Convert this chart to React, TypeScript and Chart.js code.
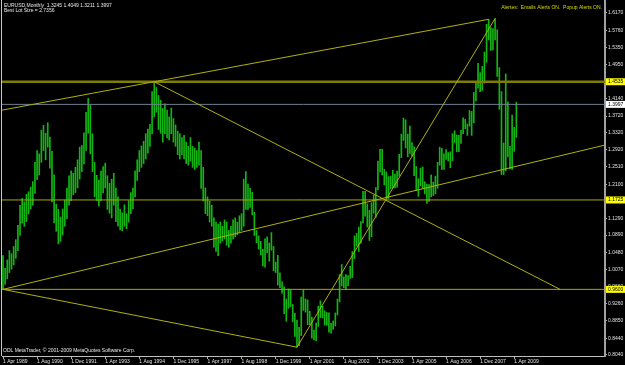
import { useEffect, useRef } from 'react';
import { Chart, registerables } from 'chart.js';

Chart.register(...registerables);

// Monthly bars, index 0 = Apr 1989 ... 241 = May 2009
const barHighs = [
  1.040, 1.010, 1.030, 1.052, 1.045, 1.062, 1.078, 1.112, 1.160, 1.176,
  1.168, 1.186, 1.192, 1.203, 1.216, 1.262, 1.290, 1.282, 1.338, 1.350,
  1.331, 1.356, 1.322, 1.288, 1.232, 1.162, 1.150, 1.132, 1.151, 1.172,
  1.201, 1.230, 1.241, 1.236, 1.250, 1.268, 1.298, 1.302, 1.332, 1.381,
  1.414, 1.398, 1.330, 1.262, 1.231, 1.220, 1.241, 1.252, 1.260, 1.230,
  1.212, 1.222, 1.236, 1.201, 1.180, 1.150, 1.142, 1.161, 1.140, 1.171,
  1.190, 1.201, 1.242, 1.268, 1.290, 1.301, 1.312, 1.330, 1.341, 1.352,
  1.430, 1.4535, 1.440, 1.421, 1.410, 1.390, 1.401, 1.386, 1.370, 1.391,
  1.366, 1.351, 1.336, 1.330, 1.321, 1.326, 1.310, 1.300, 1.321, 1.300,
  1.296, 1.290, 1.310, 1.290, 1.250, 1.201, 1.180, 1.170, 1.160, 1.130,
  1.120, 1.115, 1.120, 1.110, 1.125, 1.120, 1.100, 1.110, 1.125, 1.130,
  1.120, 1.135, 1.140, 1.222, 1.240, 1.210, 1.200,
  1.1906, 1.1430, 1.1000, 1.0870, 1.0740, 1.0550, 1.0800, 1.0850, 1.0700, 1.0950,
  1.0620, 1.0250, 1.0410, 0.9990, 0.9780, 0.9660, 0.9370, 0.9610, 0.9590, 0.9240,
  0.9030, 0.8870, 0.8700, 0.9420, 0.9600, 0.9370, 0.9350, 0.9080, 0.8940, 0.8630,
  0.8800, 0.9200, 0.9330, 0.9200, 0.9090, 0.9050, 0.9040, 0.8790, 0.8850, 0.9040,
  0.9370, 0.9950, 1.0190, 0.9900, 0.9950, 0.9930, 1.0150, 1.0500, 1.0870, 1.0930,
  1.1080, 1.1210, 1.1930, 1.1930, 1.1630, 1.1480, 1.1660, 1.1840, 1.2020, 1.2650,
  1.2930, 1.2930, 1.2450, 1.2390, 1.2280, 1.2290, 1.2430, 1.2340, 1.2410, 1.2810,
  1.3290, 1.3670, 1.3630, 1.3290, 1.3480, 1.3090, 1.2990, 1.2520, 1.2230, 1.2480,
  1.2510, 1.2160, 1.2100, 1.2090, 1.2320, 1.2150, 1.2290, 1.2620, 1.2980, 1.2950,
  1.2820, 1.2920, 1.2850, 1.2870, 1.3300, 1.3370, 1.3270, 1.3260, 1.3380, 1.3680,
  1.3640, 1.3530, 1.3850, 1.3830, 1.4280, 1.4520, 1.4970, 1.4750, 1.4900, 1.5240,
  1.5900, 1.6019, 1.5820, 1.5800, 1.6038, 1.5770, 1.4870, 1.4300, 1.3080, 1.4720,
  1.4060, 1.3000, 1.3740, 1.3450, 1.4049,
];

const barLows = [
  0.960, 0.972, 0.985, 1.000, 1.008, 1.018, 1.034, 1.052, 1.088, 1.118,
  1.110, 1.121, 1.139, 1.151, 1.160, 1.188, 1.221, 1.232, 1.262, 1.290,
  1.268, 1.298, 1.248, 1.168, 1.118, 1.098, 1.068, 1.074, 1.089, 1.110,
  1.128, 1.160, 1.171, 1.185, 1.190, 1.201, 1.222, 1.240, 1.258, 1.290,
  1.331, 1.282, 1.240, 1.180, 1.171, 1.158, 1.170, 1.189, 1.201, 1.150,
  1.141, 1.130, 1.160, 1.121, 1.110, 1.101, 1.099, 1.110, 1.104, 1.120,
  1.140, 1.151, 1.180, 1.219, 1.240, 1.250, 1.259, 1.270, 1.284, 1.300,
  1.330, 1.370, 1.381, 1.340, 1.331, 1.310, 1.330, 1.320, 1.315, 1.330,
  1.310, 1.300, 1.280, 1.270, 1.280, 1.270, 1.259, 1.255, 1.265, 1.250,
  1.245, 1.250, 1.255, 1.200, 1.170, 1.140, 1.135, 1.120, 1.110, 1.060,
  1.050, 1.040, 1.070, 1.075, 1.080, 1.065, 1.060, 1.070, 1.080, 1.085,
  1.090, 1.095, 1.100, 1.110, 1.150, 1.150, 1.155,
  1.1372, 1.0880, 1.0710, 1.0560, 1.0420, 1.0160, 1.0130, 1.0470, 1.0270, 1.0530,
  1.0040, 1.0000, 0.9700, 0.9640, 0.9510, 0.9020, 0.8845, 0.9150, 0.9190, 0.8830,
  0.8480, 0.8225, 0.8260, 0.8500, 0.9100, 0.9060, 0.8760, 0.8760, 0.8440, 0.8400,
  0.8380, 0.8720, 0.8930, 0.8920, 0.8750, 0.8750, 0.8580, 0.8560, 0.8650, 0.8730,
  0.8990, 0.9300, 0.9680, 0.9640, 0.9600, 0.9690, 0.9860, 0.9880, 1.0330, 1.0630,
  1.0500, 1.0690, 1.1180, 1.1340, 1.1080, 1.0760, 1.0850, 1.1410, 1.1310, 1.1970,
  1.2390, 1.2320, 1.2080, 1.1760, 1.1760, 1.1990, 1.2020, 1.2010, 1.2030, 1.2290,
  1.2730, 1.3140, 1.2960, 1.2750, 1.2830, 1.2770, 1.2300, 1.1950, 1.1810, 1.2060,
  1.1990, 1.1870, 1.1640, 1.1690, 1.1800, 1.1830, 1.1870, 1.2000, 1.2550, 1.2450,
  1.2450, 1.2690, 1.2650, 1.2490, 1.2660, 1.3090, 1.2870, 1.2870, 1.3070, 1.3300,
  1.3420, 1.3260, 1.3480, 1.3260, 1.3560, 1.4080, 1.4380, 1.4300, 1.4330, 1.4500,
  1.5000, 1.5530, 1.5280, 1.5290, 1.5530, 1.4660, 1.3880, 1.2330, 1.2330, 1.2420,
  1.2750, 1.2460, 1.2450, 1.2880, 1.3211,
];

const dateTickIndex = [0, 16, 32, 48, 64, 80, 96, 112, 128, 144, 160, 176, 192, 208, 224, 240];
const dateTickLabels = [
  '1 Apr 1989', '1 Aug 1990', '1 Dec 1991', '1 Apr 1993', '1 Aug 1994', '1 Dec 1995',
  '1 Apr 1997', '1 Aug 1998', '1 Dec 1999', '1 Apr 2001', '1 Aug 2002', '1 Dec 2003',
  '1 Apr 2005', '1 Aug 2006', '1 Dec 2007', '1 Apr 2009',
];

const priceTicks = [
  1.617, 1.576, 1.535, 1.495, 1.454, 1.414, 1.372, 1.332, 1.292, 1.251, 1.21,
  1.17, 1.129, 1.089, 1.048, 1.007, 0.966, 0.926, 0.885, 0.844, 0.804,
];

// Horizontal levels
const levelValues = [1.4535, 1.3997, 1.1725, 0.96];
const levelColors = ['#7e7e00', '#6f8090', '#a8a800', '#a8a800'];
const levelWidths = [2.5, 1, 1, 1];
const levelBoxFill = ['#ffff00', '#ffffff', '#ffff00', '#ffff00'];

// Trend lines (bar index / price anchors)
const trendStartIdx = [-0.47, 71, 0, 0, 138];
const trendStartPrice = [1.386, 1.4535, 0.96, 0.96, 0.8225];
const trendEndIdx = [228, 261.5, 282.6, 138, 231];
const trendEndPrice = [1.6019, 0.96, 1.303, 0.8225, 1.6038];

const X_MIN = -0.47;
const X_MAX = 282.6;
const Y_MIN = 0.8016;
const Y_MAX = 1.6478;

const FONT = '"Liberation Sans", Arial, sans-serif';

export default function App() {
  const ref = useRef<HTMLCanvasElement | null>(null);

  useEffect(() => {
    document.body.style.margin = '0';
    document.body.style.background = '#000';
    const canvas = ref.current;
    if (!canvas) return;

    const barData = barHighs.map((h, i) => ({ x: i, y: [barLows[i], h] }));

    const trendSets = trendStartIdx.map((s, k) => ({
      type: 'line' as const,
      data: [
        { x: s, y: trendStartPrice[k] },
        { x: trendEndIdx[k], y: trendEndPrice[k] },
      ],
      borderColor: '#b0b010',
      borderWidth: 1,
      pointRadius: 0,
      tension: 0,
      fill: false,
      order: 1,
    }));

    const levelSets = levelValues.map((v, k) => ({
      type: 'line' as const,
      data: [
        { x: X_MIN, y: v },
        { x: X_MAX, y: v },
      ],
      borderColor: levelColors[k],
      borderWidth: levelWidths[k],
      pointRadius: 0,
      tension: 0,
      fill: false,
      order: 1,
    }));

    const overlay = {
      id: 'mtOverlay',
      beforeDraw(chart: any) {
        const c = chart.ctx;
        c.save();
        c.fillStyle = '#000000';
        c.fillRect(0, 0, chart.width, chart.height);
        c.restore();
      },
      afterDraw(chart: any) {
        const c = chart.ctx;
        const ys = chart.scales.y;
        const area = chart.chartArea;
        c.save();
        c.strokeStyle = '#c8c8c8';
        c.lineWidth = 1;
        c.beginPath();
        c.moveTo(1.5, 0);
        c.lineTo(1.5, area.bottom);
        c.stroke();
        c.font = `5px ${FONT}`;
        c.textBaseline = 'middle';
        c.textAlign = 'left';
        c.fillStyle = '#e8e8e8';
        c.fillText('EURUSD,Monthly  1.3245 1.4049 1.3211 1.3997', 4, 5.5);
        c.fillText('Best Lot Size = 2.7356', 4, 11);
        c.fillText('ODL MetaTrader, \u00a9 2001-2009 MetaQuotes Software Corp.', 3, 351);
        c.textAlign = 'right';
        c.fillStyle = '#d8d800';
        c.fillText('Alertes:  Emails Alerts ON.  Popup Alerts ON.', 602, 7.5);
        c.textAlign = 'left';
        levelValues.forEach((v, k) => {
          const py = ys.getPixelForValue(v);
          c.fillStyle = levelBoxFill[k];
          c.fillRect(area.right + 1, py - 3.5, 19, 7);
          c.fillStyle = '#000000';
          c.fillText(v.toFixed(4), area.right + 3, py);
        });
        c.restore();
      },
    };

    const chart = new Chart(canvas, {
      type: 'bar',
      data: {
        datasets: [
          {
            type: 'bar' as const,
            data: barData as any,
            backgroundColor: '#14b414',
            borderWidth: 0,
            barThickness: 1,
            grouped: false,
            order: 2,
          } as any,
          ...trendSets,
          ...levelSets,
        ],
      },
      options: {
        animation: false,
        responsive: false,
        devicePixelRatio: 1,
        layout: { padding: { left: 2, top: 0, right: 0, bottom: 0 } },
        plugins: {
          legend: { display: false },
          tooltip: { enabled: false },
        },
        scales: {
          x: {
            type: 'linear',
            min: X_MIN,
            max: X_MAX,
            offset: false,
            grid: {
              display: true,
              drawOnChartArea: false,
              drawTicks: true,
              tickLength: 3,
              color: '#b0b0b0',
              offset: false,
            },
            border: { display: true, color: '#c0c0c0', width: 1 },
            ticks: {
              autoSkip: false,
              maxRotation: 0,
              minRotation: 0,
              align: 'start',
              padding: 0,
              color: '#e0e0e0',
              font: { size: 5, family: FONT },
              callback: (v: any) => {
                const k = dateTickIndex.indexOf(Number(v));
                return k >= 0 ? dateTickLabels[k] : '';
              },
            },
            afterBuildTicks: (s: any) => {
              s.ticks = dateTickIndex.map((v) => ({ value: v }));
            },
            afterFit: (s: any) => {
              s.height = 9;
              s.paddingLeft = 0;
              s.paddingRight = 0;
            },
          },
          y: {
            type: 'linear',
            position: 'right',
            min: Y_MIN,
            max: Y_MAX,
            beginAtZero: false,
            grid: {
              display: true,
              drawOnChartArea: false,
              drawTicks: true,
              tickLength: 2,
              color: '#b0b0b0',
            },
            border: { display: true, color: '#a0a0a0', width: 2 },
            ticks: {
              autoSkip: false,
              padding: 1,
              color: '#e0e0e0',
              font: { size: 5, family: FONT },
              callback: (v: any) => Number(v).toFixed(4),
            },
            afterBuildTicks: (s: any) => {
              s.ticks = priceTicks.map((v) => ({ value: v }));
            },
            afterFit: (s: any) => {
              s.width = 20;
              s.paddingTop = 0;
              s.paddingBottom = 0;
            },
          },
        },
      } as any,
      plugins: [overlay],
    });

    return () => {
      chart.destroy();
    };
  }, []);

  return (
    <canvas
      ref={ref}
      width={625}
      height={365}
      style={{ display: 'block', width: 625, height: 365, background: '#000' }}
    />
  );
}
